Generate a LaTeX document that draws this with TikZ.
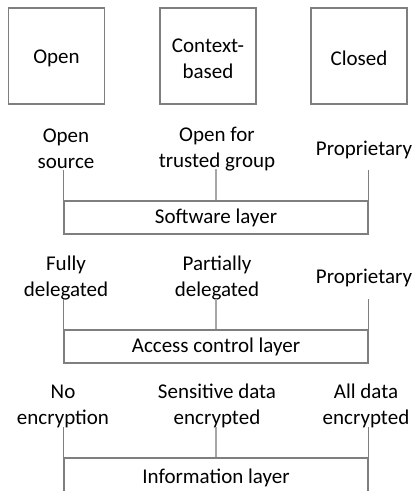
\documentclass[tikz,border=0pt]{standalone}
\usepackage{fontspec}
\setmainfont{Carlito}
\definecolor{edge}{HTML}{7F7F7F}
\definecolor{softedge}{HTML}{A6A6A6}
\begin{document}
\begin{tikzpicture}[x=1pt,y=-1pt,
  txt/.style={font=\fontsize{21}{26}\selectfont, align=center, inner sep=0pt},
  modelbox/.style={draw=edge, line width=1.1pt, minimum width=96pt, minimum height=96pt, txt},
  layerbox/.style={draw=edge, line width=1.1pt, minimum width=304pt, minimum height=33pt, txt},
  tick/.style={draw=edge, line width=1.1pt},
  softtick/.style={draw=softedge, line width=1.1pt}]
\clip (0,0) rectangle (418,491);

% access models
\node[modelbox] (open)   at (56.5,56) {};
\node[modelbox] (ctx)    at (208,56)  {};
\node[modelbox] (closed) at (359,56)  {};
\node[txt] at (56.5,58.5) {Open};
\node[txt] at (208,58.5)  {Context-\\based};
\node[txt] at (359,58.5)  {Closed};

% software layer
\node[layerbox] (sw) at (216,217.5) {Software layer};
\node[txt] (sw1) at (66,149)  {Open\\source};
\node[txt] (sw2) at (217,149) {Open for\\trusted group};
\node[txt] (sw3) at (364,150) {Proprietary};
\draw[tick]     (sw.north west) -- +(0,-30);
\draw[softtick] (sw.north)      -- +(0,-31);
\draw[tick]     (sw.north east) -- +(0,-30);

% access control layer
\node[layerbox] (ac) at (216,346.5) {Access control layer};
\node[txt] (ac1) at (66,278)  {Fully\\delegated};
\node[txt] (ac2) at (217,278) {Partially\\delegated};
\node[txt] (ac3) at (364,278) {Proprietary};
\draw[tick]     (ac.north west) -- +(0,-30);
\draw[softtick] (ac.north)      -- +(0,-30);
\draw[tick]     (ac.north east) -- +(0,-30);

% information layer (runs past the lower edge)
\node[layerbox, minimum height=66pt] (inf) at (216,491) {};
\node[txt] (infl) at (216,477.5) {Information layer};
\node[txt] (in1) at (63,406)  {No\\encryption};
\node[txt] (in2) at (217,406) {Sensitive data\\encrypted};
\node[txt] (in3) at (366,406) {All data\\encrypted};
\draw[tick]     (inf.north west) -- +(0,-30);
\draw[softtick] (inf.north)      -- +(0,-30);
\draw[tick]     (inf.north east) -- +(0,-30);
\end{tikzpicture}
\end{document}
